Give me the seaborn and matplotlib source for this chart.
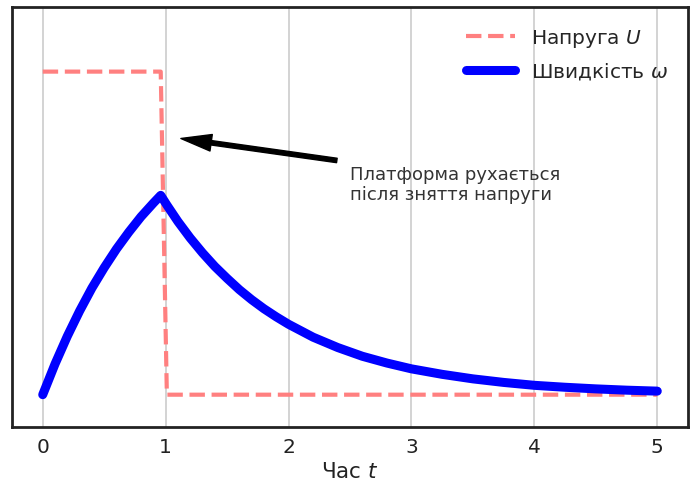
import numpy as np
import pandas as pd
import seaborn as sns
import matplotlib.pyplot as plt

# voltage step
t_u = [0.0, 0.96, 1.01, 5.0]
u_vals = [1.0, 1.0, 0.0, 0.0]

# platform speed
t_w = [0.0, 0.1, 0.2, 0.3, 0.4, 0.5, 0.6, 0.7, 0.8, 0.9, 0.96,
       1.01, 1.1, 1.2, 1.3, 1.4, 1.5, 1.6, 1.7, 1.8, 1.9, 2.0,
       2.2, 2.4, 2.6, 2.8, 3.0, 3.25, 3.5, 3.75, 4.0, 4.25, 4.5, 4.75, 5.0]
w_vals = [0.0, 0.095, 0.181, 0.259, 0.330, 0.393, 0.451, 0.503, 0.551, 0.593, 0.617,
          0.587, 0.536, 0.485, 0.439, 0.397, 0.360, 0.325, 0.294, 0.266, 0.241, 0.218,
          0.178, 0.146, 0.119, 0.098, 0.080, 0.063, 0.049, 0.038, 0.029, 0.023, 0.018, 0.014, 0.011]

x_ticks = [0, 1, 2, 3, 4, 5]

sns.set_style('whitegrid')
plt.rcParams['font.family'] = ['DejaVu Sans']
plt.rcParams['mathtext.fontset'] = 'dejavusans'

df_u = pd.DataFrame({'t': t_u, 'U': u_vals})
df_w = pd.DataFrame({'t': t_w, 'w': w_vals})

fig = plt.figure(figsize=(6.96, 4.85), dpi=100)
ax = fig.add_axes([12 / 696, 1 - 428 / 485, 676 / 696, 420 / 485])

sns.lineplot(data=df_u, x='t', y='U', ax=ax, color='#ff8080', lw=3,
             linestyle='--', label='Напруга $U$', sort=False)
sns.lineplot(data=df_w, x='t', y='w', ax=ax, color='#0000ff', lw=6.5,
             label='Швидкість $\\omega$', sort=False, solid_capstyle='round')

ax.set_ylim(-0.1, 1.2)
ax.set_xticks(x_ticks)
ax.set_yticks([])
ax.set_ylabel('')
ax.set_xlabel('Час $t$', fontsize=15.5, color='#222222', labelpad=4)
ax.tick_params(axis='x', labelsize=14.5, colors='#222222')
ax.yaxis.grid(False)
ax.xaxis.grid(True, color='#cccccc', lw=1.2)
for s in ax.spines.values():
    s.set_color('#222222')
    s.set_linewidth(2)

ax.annotate('', xy=(1.124, 0.793), xytext=(2.393, 0.725),
            arrowprops=dict(facecolor='black', edgecolor='black', shrink=0,
                            width=3.2, headwidth=12, headlength=22))
ax.text(2.5, 0.651, 'Платформа рухається\nпісля зняття напруги',
        fontsize=13, color='#333333', ha='left', va='center', linespacing=1.15)

ax.legend(loc='upper right', frameon=False, fontsize=14.5, handlelength=2.4,
          labelspacing=0.55, borderaxespad=0.6)

fig.savefig('out.png', dpi=100)
